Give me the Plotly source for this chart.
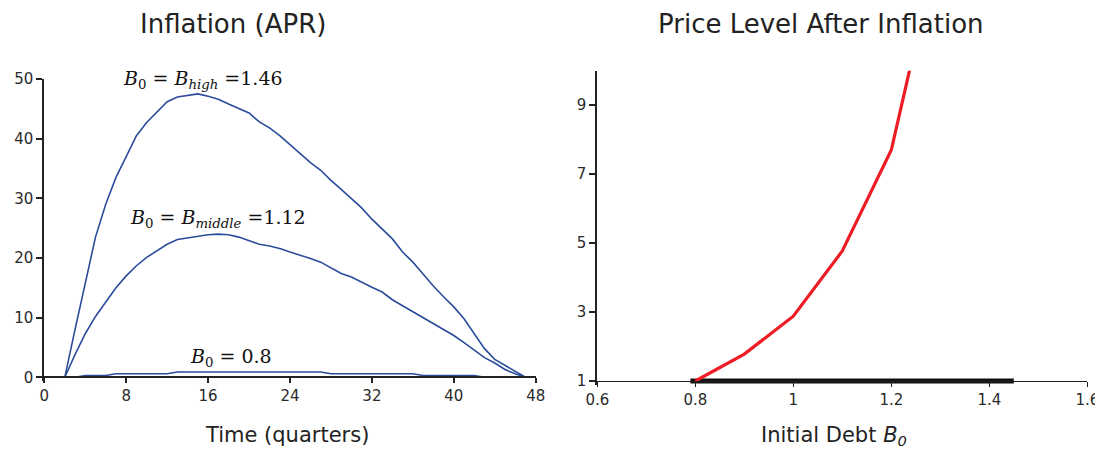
import plotly.graph_objects as go

# ---- data: left panel (inflation, APR) ----
quarters = list(range(1, 49))
infl_high = [0, 0, 8, 16, 23.5, 29, 33.5, 37, 40.5, 42.7, 44.5, 46.2, 47.0, 47.3, 47.5, 47.1,
             46.6, 45.8, 45.0, 44.3, 42.8, 41.8, 40.5, 39.0, 37.4, 36.0, 34.7, 33.0, 31.5, 30.0,
             28.4, 26.5, 24.8, 23.2, 21.0, 19.3, 17.3, 15.3, 13.5, 11.8, 9.8, 7.3, 4.8, 3.0,
             2.0, 1.0, 0, 0]
infl_middle = [0, 0, 3.8, 7.3, 10.2, 12.7, 15.0, 17.0, 18.7, 20.1, 21.2, 22.3, 23.1, 23.4, 23.7,
               23.9, 24.0, 23.9, 23.5, 22.9, 22.3, 22.0, 21.6, 21.0, 20.5, 19.9, 19.3, 18.3, 17.4,
               16.8, 15.9, 15.1, 14.3, 13.0, 12.0, 11.0, 10.0, 8.9, 8.0, 7.0, 5.8, 4.5, 3.3, 2.4,
               1.3, 0.6, 0, 0]
infl_low = [0, 0, 0, 0.3, 0.3, 0.3, 0.6, 0.6, 0.6, 0.6, 0.6, 0.6, 0.9, 0.9, 0.9, 0.9, 0.9, 0.9,
            0.9, 0.9, 0.9, 0.9, 0.9, 0.9, 0.9, 0.9, 0.9, 0.6, 0.6, 0.6, 0.6, 0.6, 0.6, 0.6, 0.6,
            0.6, 0.3, 0.3, 0.3, 0.3, 0.3, 0.3, 0, 0, 0, 0, 0, 0]
left_xticks = [0, 8, 16, 24, 32, 40, 48]
left_yticks = [0, 10, 20, 30, 40, 50]

# ---- data: right panel (price level after inflation) ----
debt = [0.8, 0.9, 1.0, 1.1, 1.2, 1.3]
price_level = [1.0, 1.78, 2.88, 4.77, 7.7, 13.9]
flat_debt = [0.79, 1.45]
flat_price = [1.0, 1.0]
right_xticks = [0.6, 0.8, 1, 1.2, 1.4, 1.6]
right_xticklabels = ["0.6", "0.8", "1", "1.2", "1.4", "1.6"]
right_yticks = [1, 3, 5, 7, 9]

W, H = 1095, 450
# axis geometry (paper fractions)
L_x = [44.3 / W, 535.7 / W]
L_base, L_top = 1 - 377.3 / H, 1 - 79 / H
L_range = [0, 50]
R_x = [597.3 / W, 1087.3 / W]
R_base, R_top = 1 - 381 / H, 1 - 70.7 / H
R_range = [1, 10]

# y domains extended a few px below the x axis so lines on the baseline are not clipped
pad = 4 / H
def ext(base, top, rng):
    per = (rng[1] - rng[0]) / (top - base)
    return [base - pad, top], [rng[0] - pad * per, rng[1]]
L_ydom, L_yrng = ext(L_base, L_top, L_range)
R_ydom, R_yrng = ext(R_base, R_top, R_range)

blue = "#2b4c9b"
axcol = "#222222"
SANS = "DejaVu Sans, Liberation Sans, Arial"
tickfont = dict(family=SANS, size=15, color="#2a2a2a")

fig = go.Figure()
for ys in (infl_high, infl_middle, infl_low):
    fig.add_trace(go.Scatter(x=quarters, y=ys, mode="lines", line=dict(color=blue, width=1.6),
                             xaxis="x", yaxis="y", showlegend=False, hoverinfo="skip"))
fig.add_trace(go.Scatter(x=flat_debt, y=flat_price, mode="lines", line=dict(color="#111111", width=5),
                         xaxis="x2", yaxis="y2", showlegend=False))
fig.add_trace(go.Scatter(x=debt, y=price_level, mode="lines", line=dict(color="#ee1c24", width=3.2),
                         xaxis="x2", yaxis="y2", showlegend=False))

common = dict(showgrid=False, zeroline=False, showline=True, linecolor=axcol, ticks="outside",
              tickcolor=axcol, tickfont=tickfont, automargin=False, ticklabeloverflow="allow")
fig.update_layout(
    width=W, height=H, margin=dict(l=0, r=0, t=0, b=0, autoexpand=False),
    paper_bgcolor="white", plot_bgcolor="rgba(0,0,0,0)",
    xaxis=dict(domain=L_x, range=[0, 48], anchor="free", position=L_base, tickvals=left_xticks,
               linewidth=2, ticklen=5, tickwidth=1.5, **common),
    yaxis=dict(domain=L_ydom, range=L_yrng, anchor="x", tickvals=left_yticks,
               linewidth=2, ticklen=6, tickwidth=1.5, **common),
    xaxis2=dict(domain=R_x, range=[0.6, 1.6], anchor="free", position=R_base,
                tickvals=right_xticks, ticktext=right_xticklabels,
                linewidth=1, ticklen=5, tickwidth=1.2, **common),
    yaxis2=dict(domain=R_ydom, range=R_yrng, anchor="x2", tickvals=right_yticks,
                linewidth=2, ticklen=6, tickwidth=1.5, **common),
)

serif = dict(family="DejaVu Serif, Liberation Serif", size=19, color="#111111")
sans_title = dict(family=SANS, size=26, color="#222222")
sans_axis = dict(family=SANS, size=21, color="#222222")

C = dict(showarrow=False, xanchor="center", yanchor="middle")
annots = [
    dict(x=232.5 / W, y=1 - 24 / H, xref="paper", yref="paper", text="Inflation (APR)",
         font=sans_title, **C),
    dict(x=821 / W, y=1 - 24 / H, xref="paper", yref="paper", text="Price Level After Inflation",
         font=sans_title, **C),
    dict(x=287 / W, y=1 - 435 / H, xref="paper", yref="paper", text="Time (quarters)",
         font=sans_axis, **C),
    dict(x=834 / W, y=1 - 436 / H, xref="paper", yref="paper",
         text="Initial Debt <i>B<sub>0</sub></i>", font=sans_axis, **C),
    dict(x=15.5, y=50.0, xref="x", yref="y",
         text="<i>B</i><sub>0</sub> = <i>B<sub>high</sub></i> =1.46", font=serif, **C),
    dict(x=17.0, y=26.7, xref="x", yref="y",
         text="<i>B</i><sub>0</sub> = <i>B<sub>middle</sub></i> =1.12", font=serif, **C),
    dict(x=18.2, y=3.3, xref="x", yref="y",
         text="<i>B</i><sub>0</sub> = 0.8", font=serif, **C),
]
fig.update_layout(annotations=annots)

fig.write_html("out.html")
